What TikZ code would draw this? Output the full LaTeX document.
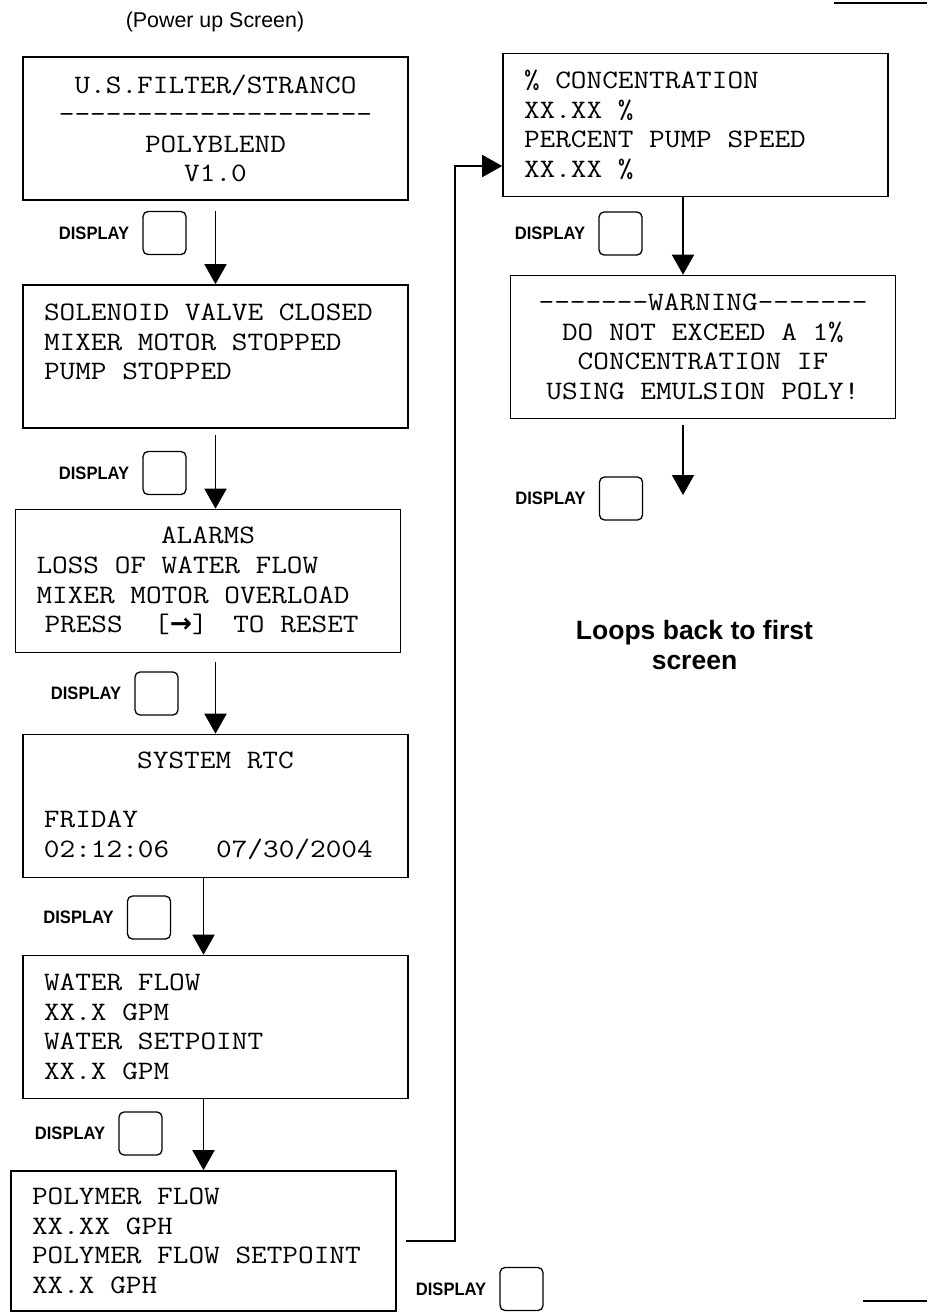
\documentclass[tikz,border=0pt]{standalone}
\usepackage{fontspec}
\setsansfont{Liberation Sans}
\setmonofont{Latin Modern Mono}[FakeStretch=1.143]
\newfontfamily\arrowfont{DejaVu Sans}
\usetikzlibrary{arrows.meta,positioning}

\newcommand\lcd{\ttfamily\fontsize{26.6pt}{29.6pt}\selectfont}
\newcommand\keyfont{\sffamily\bfseries\fontsize{18pt}{18pt}\selectfont}
\newcommand\lcdleft[1]{\makebox[343pt][l]{#1}}

\tikzset{
  screen/.style={draw, line width=1.6pt, minimum width=385pt, minimum height=143pt,
    inner xsep=21pt, inner ysep=4pt, text width=343pt, font=\lcd,
    execute at begin node={\spaceskip=0pt\xspaceskip=0pt\relax}},
  key/.style={draw, rounded corners=5pt, line width=1.3pt, minimum size=43pt, inner sep=0pt},
  keytext/.style={inner sep=0pt, font=\keyfont},
  flow/.style={line width=1.8pt, -{Triangle[width=22pt,length=20pt]}},
  rule/.style={line width=2pt}
}

\begin{document}
\begin{tikzpicture}[x=1pt,y=-1pt]
  \useasboundingbox (0,0) rectangle (927,1312);

  % title
  \node[font=\sffamily\fontsize{21.4pt}{24pt}\selectfont] (title) at (215,22) {(Power up Screen)};

  % left column of screens
  \node[screen, align=center] (b1) at (215.5,128.5)
    {U.S.FILTER/STRANCO\\--------------------\\POLYBLEND\\V1.0};
  \node[screen, align=left] (b2) at (215.5,356.5)
    {SOLENOID VALVE CLOSED\\MIXER MOTOR STOPPED\\PUMP STOPPED\\\mbox{}};
  \node[screen, align=center] (b3) at (208,581)
    {ALARMS\\\lcdleft{LOSS OF WATER FLOW}\\\lcdleft{MIXER MOTOR OVERLOAD}\\
     \lcdleft{\hspace*{8pt}PRESS~~[{\arrowfont\bfseries →}]\hspace{10pt}~TO~RESET}};
  \node[screen, align=center] (b4) at (215.5,806)
    {SYSTEM RTC\\\mbox{}\\\lcdleft{FRIDAY}\\\lcdleft{02:12:06~~~07/30/2004}};
  \node[screen, align=left] (b5) at (215.5,1027)
    {WATER FLOW\\XX.X GPM\\WATER SETPOINT\\XX.X GPM};
  \node[screen, align=left, minimum height=140pt] (b6) at (203.5,1241)
    {POLYMER FLOW\\XX.XX GPH\\POLYMER FLOW SETPOINT\\XX.X GPH};

  % right column of screens
  \node[screen, align=left] (b7) at (695.5,125)
    {\% CONCENTRATION\\XX.XX \%\\PERCENT PUMP SPEED\\XX.XX \%};
  \node[screen, align=center] (b8) at (703,347)
    {-------WARNING-------\\DO NOT EXCEED A 1\%\\CONCENTRATION IF\\USING EMULSION POLY!};

  \node[font=\sffamily\bfseries\fontsize{26.5pt}{29.5pt}\selectfont, align=center] (loop) at (694.5,645)
    {Loops back to first\\screen};

  % display keys
  \foreach \n/\x/\y in {1/164.5/233, 2/164.5/473, 3/156.5/693.5, 4/149/917.5,
                        5/140.5/1133.5, 6/521.5/1289, 7/620.5/233.5, 8/621/498.5} {
    \node[key] (k\n) at (\x,\y) {};
    \node[keytext, left=13pt of k\n] (t\n) {\scalebox{0.92}[1]{DISPLAY}};
  }

  % arrows
  \draw[flow, shorten <=10pt] (b1) -- (b2);
  \draw[flow, shorten <=6pt] (b2.south) -- (b2.south |- b3.north);
  \draw[flow, shorten <=9pt] (b4.north |- b3.south) -- (b4.north);
  \draw[flow] (b6.north |- b4.south) -- (b6.north |- b5.north);
  \draw[flow] (b6.north |- b5.south) -- (b6.north);

  \coordinate (c7) at ([xshift=-12.5pt]b7.south);
  \draw[flow] (c7) -- (c7 |- b8.north);
  \coordinate (c8) at ([xshift=-20pt]b8.south);
  \coordinate (end8) at (683,495);
  \draw[flow, shorten <=6pt] (c8) -- (end8);

  % back to the top of the right column
  \coordinate (l0) at ([xshift=9pt]b6.east);
  \coordinate (l1) at ([yshift=-41pt]b7.west);
  \coordinate (lx) at (455,0);
  \draw[flow] (l0) -| (lx |- l1) -- (l1);

  % page rules
  \coordinate (r1) at (834,3);
  \coordinate (r2) at (863,1301);
  \draw[rule] (r1) -- (927,3);
  \draw[rule] (r2) -- (927,1301);
\end{tikzpicture}
\end{document}
